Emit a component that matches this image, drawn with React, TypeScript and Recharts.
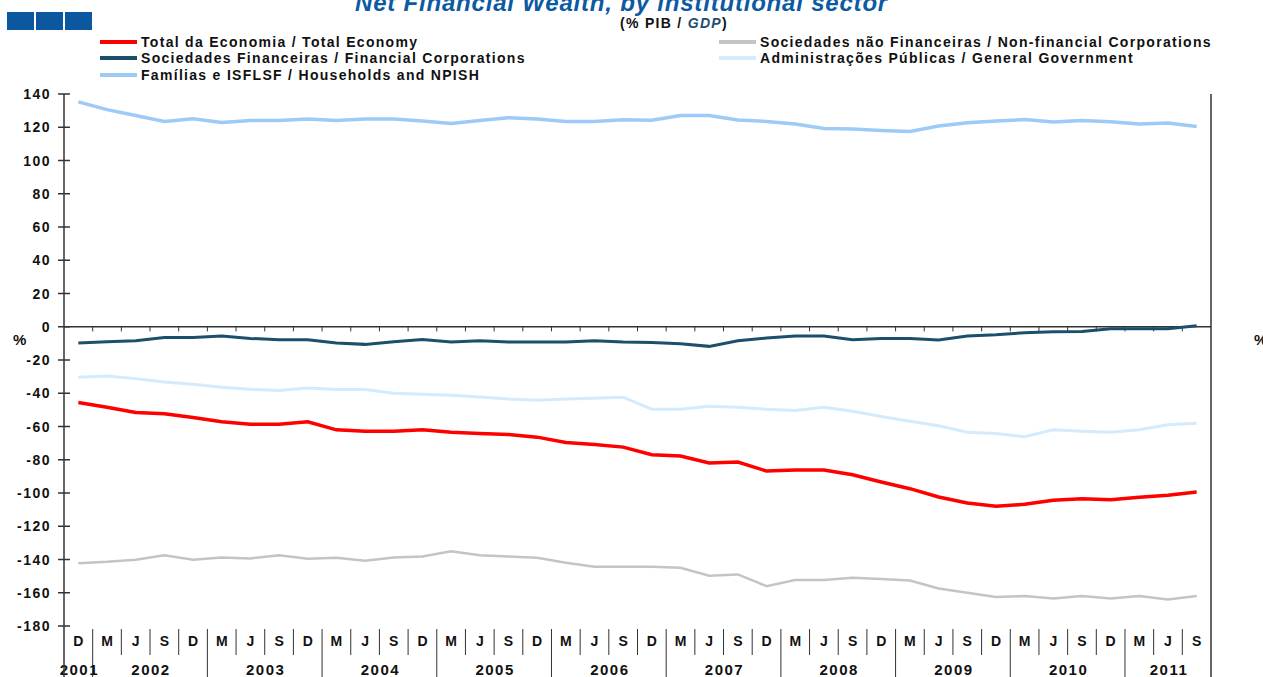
import React from 'react';
import { LineChart, Line, XAxis, YAxis, ReferenceLine } from 'recharts';

const months = ['D', 'M', 'J', 'S', 'D', 'M', 'J', 'S', 'D', 'M', 'J', 'S', 'D', 'M', 'J', 'S', 'D', 'M', 'J', 'S', 'D', 'M', 'J', 'S', 'D', 'M', 'J', 'S', 'D', 'M', 'J', 'S', 'D', 'M', 'J', 'S', 'D', 'M', 'J', 'S'];
const years = [2001, 2002, 2002, 2002, 2002, 2003, 2003, 2003, 2003, 2004, 2004, 2004, 2004, 2005, 2005, 2005, 2005, 2006, 2006, 2006, 2006, 2007, 2007, 2007, 2007, 2008, 2008, 2008, 2008, 2009, 2009, 2009, 2009, 2010, 2010, 2010, 2010, 2011, 2011, 2011];

const total = [-45.6, -48.4, -51.6, -52.4, -54.6, -57.2, -58.6, -58.6, -57.2, -62, -62.8, -62.8, -62, -63.4, -64.2, -64.8, -66.4, -69.6, -70.8, -72.4, -77, -77.8, -82, -81.4, -86.8, -86.2, -86.2, -89, -93.4, -97.4, -102.4, -106, -108, -106.8, -104.4, -103.4, -104, -102.6, -101.4, -99.4];
const financial = [-9.8, -9, -8.4, -6.4, -6.4, -5.6, -7, -7.8, -7.8, -9.8, -10.6, -9, -7.6, -9.2, -8.4, -9.2, -9.2, -9.2, -8.4, -9.2, -9.4, -10.2, -11.8, -8.4, -6.8, -5.6, -5.6, -7.8, -7, -7, -8, -5.6, -4.8, -3.6, -3, -2.8, -1.2, -1.2, -1.2, 0.6];
const households = [135.3, 130.6, 127.1, 123.5, 125.1, 122.9, 124.1, 124.1, 124.9, 124.1, 124.9, 124.9, 123.7, 122.2, 124.1, 125.7, 124.9, 123.5, 123.5, 124.5, 124.2, 127.1, 127.1, 124.4, 123.5, 121.9, 119.2, 119, 118.1, 117.5, 120.8, 122.7, 123.7, 124.6, 123.1, 124, 123.3, 121.9, 122.5, 120.4];
const nonFinancial = [-142.2, -141.4, -140.2, -137.4, -140.2, -138.8, -139.4, -137.4, -139.6, -139, -140.8, -138.8, -138.2, -135, -137.4, -138.2, -139, -142, -144.4, -144.4, -144.4, -145, -149.8, -149, -156, -152.4, -152.4, -151, -151.8, -152.6, -157.4, -160, -162.6, -162, -163.4, -162, -163.4, -162, -164, -162];
const government = [-30.4, -29.6, -31.2, -33.2, -34.6, -36.4, -37.6, -38.4, -36.8, -37.8, -37.8, -40, -40.6, -41.2, -42.2, -43.4, -44.2, -43.4, -43, -42.4, -49.6, -49.6, -47.8, -48.4, -49.6, -50.4, -48.4, -50.8, -54, -56.8, -59.6, -63.4, -64.2, -66.2, -62, -62.8, -63.4, -62, -59, -58];

const yTicks = [140, 120, 100, 80, 60, 40, 20, 0, -20, -40, -60, -80, -100, -120, -140, -160, -180];

const series = [
  { key: 'total', name: 'Total da Economia / Total Economy', color: '#ff0000', width: 3.5 },
  { key: 'financial', name: 'Sociedades Financeiras / Financial Corporations', color: '#1b4f6b', width: 3 },
  { key: 'households', name: 'Famílias e ISFLSF / Households and NPISH', color: '#9dcbf5', width: 3.5 },
  { key: 'nonFinancial', name: 'Sociedades não Financeiras / Non-financial Corporations', color: '#c4c4c4', width: 2.5 },
  { key: 'government', name: 'Administrações Públicas / General Government', color: '#d3ebfc', width: 3 },
];

const data = months.map((m, i) => ({
  i,
  month: m,
  year: years[i],
  total: total[i],
  financial: financial[i],
  households: households[i],
  nonFinancial: nonFinancial[i],
  government: government[i],
}));

const W = 1263;
const H = 677;
const PLOT_L = 64;
const PLOT_R = 1211;
const BAND = (PLOT_R - PLOT_L) / months.length;
const FONT = '"Liberation Sans", Arial, sans-serif';
const AXIS = '#333';

const boundaries = months.slice(1).map((_, i) => i + 0.5);

const MonthTick = (props: any) => {
  const { x, y, payload } = props;
  const i = payload.value as number;
  const last = months.length - 1;
  const yearStart = i === 0 || years[i - 1] !== years[i];
  const yearEnd = i === last || years[i + 1] !== years[i];
  const count = years.filter((yy) => yy === years[i]).length;
  return (
    <g>
      <text x={x + 0.5} y={y + 20} textAnchor="middle" fontFamily={FONT} fontWeight="bold" fontSize={14} letterSpacing={1} fill="#111">
        {months[i]}
      </text>
      {i < last && (
        <line x1={x + BAND / 2} x2={x + BAND / 2} y1={y + 3} y2={yearEnd ? H : y + 29} stroke={AXIS} strokeWidth={1} />
      )}
      {yearStart && (
        <text x={x + ((count - 1) * BAND) / 2 + 1} y={y + 49} textAnchor="middle" fontFamily={FONT} fontWeight="bold" fontSize={15} letterSpacing={1.5} fill="#111">
          {years[i]}
        </text>
      )}
      {i === 0 && <line x1={x - BAND / 2} x2={x - BAND / 2} y1={y} y2={H} stroke={AXIS} strokeWidth={1.5} />}
      {i === last && <line x1={x + BAND / 2} x2={x + BAND / 2} y1={y} y2={H} stroke={AXIS} strokeWidth={1.5} />}
    </g>
  );
};

const YTick = (props: any) => {
  const { x, y, payload, side } = props;
  const left = side === 'left';
  return (
    <g>
      <line x1={x - 6} x2={x + 6} y1={y} y2={y} stroke={AXIS} strokeWidth={1.5} />
      <text
        x={left ? x - 13 : x + 17}
        y={y + 5}
        textAnchor={left ? 'end' : 'start'}
        fontFamily={FONT}
        fontWeight="bold"
        fontSize={14}
        letterSpacing={1.5}
        fill="#111"
      >
        {payload.value}
      </text>
    </g>
  );
};

const LegendItem = ({ s, x, y }: { s: (typeof series)[number]; x: number; y: number }) => (
  <div style={{ position: 'absolute', left: x, top: y - 9, height: 18, display: 'flex', alignItems: 'center', whiteSpace: 'nowrap' }}>
    <div style={{ width: 37, height: 4, background: s.color, marginRight: 4 }} />
    <span style={{ fontFamily: FONT, fontWeight: 'bold', fontSize: 14, letterSpacing: 1.3, color: '#111' }}>{s.name}</span>
  </div>
);

export default function App() {
  const legendPos = [
    { x: 100, y: 42 },
    { x: 100, y: 58 },
    { x: 100, y: 75 },
    { x: 719, y: 42 },
    { x: 719, y: 58 },
  ];
  return (
    <div style={{ position: 'absolute', left: 0, top: 0, width: W, height: H, background: '#fff', overflow: 'hidden', fontFamily: FONT }}>
      <div style={{ position: 'absolute', left: 7, top: 12, display: 'flex', gap: 2 }}>
        {[0, 1, 2].map((k) => (
          <div key={k} style={{ width: 27, height: 18, background: '#0b58a0' }} />
        ))}
      </div>
      <div style={{ position: 'absolute', left: 0, width: 1243, top: -11, textAlign: 'center', fontFamily: FONT, fontWeight: 'bold', fontStyle: 'italic', fontSize: 24, letterSpacing: 0.8, color: '#0b5aa2', whiteSpace: 'nowrap' }}>
        Net Financial Wealth, by institutional sector
      </div>
      <div style={{ position: 'absolute', left: 620, top: 15, fontFamily: FONT, fontWeight: 'bold', fontSize: 14, letterSpacing: 1.3, color: '#111', whiteSpace: 'nowrap' }}>
        (% PIB / <span style={{ fontStyle: 'italic', color: '#1f4e6e' }}>GDP</span>)
      </div>
      {series.map((s, k) => (
        <LegendItem key={s.key} s={s} x={legendPos[k].x} y={legendPos[k].y} />
      ))}
      <div style={{ position: 'absolute', left: 13, top: 331, fontFamily: FONT, fontWeight: 'bold', fontSize: 15, color: '#111' }}>%</div>
      <div style={{ position: 'absolute', left: 1254, top: 331, fontFamily: FONT, fontWeight: 'bold', fontSize: 15, color: '#111' }}>%</div>
      <div style={{ position: 'absolute', left: 0, top: 0 }}>
        <LineChart width={W} height={H} data={data} margin={{ top: 94, right: 0, bottom: 0, left: 0 }}>
          <XAxis
            dataKey="i"
            type="number"
            domain={[-0.5, months.length - 0.5]}
            ticks={data.map((d) => d.i)}
            interval={0}
            height={51}
            axisLine={false}
            tickLine={false}
            tickSize={0}
            tickMargin={0}
            tick={<MonthTick />}
          />
          <YAxis
            yAxisId="left"
            orientation="left"
            width={64}
            domain={[-180, 140]}
            ticks={yTicks}
            interval={0}
            axisLine={{ stroke: AXIS, strokeWidth: 1.5 }}
            tickLine={false}
            tickSize={0}
            tickMargin={0}
            tick={<YTick side="left" />}
          />
          <YAxis
            yAxisId="right"
            orientation="right"
            width={52}
            domain={[-180, 140]}
            ticks={yTicks}
            interval={0}
            axisLine={{ stroke: AXIS, strokeWidth: 1.5 }}
            tickLine={false}
            tickSize={0}
            tickMargin={0}
            tick={<YTick side="right" />}
          />
          <ReferenceLine yAxisId="left" y={0} stroke={AXIS} strokeWidth={1.5} />
          {boundaries.map((b) => (
            <ReferenceLine
              key={b}
              yAxisId="left"
              segment={[
                { x: b, y: 0 },
                { x: b, y: -2.8 },
              ]}
              stroke={AXIS}
              strokeWidth={1}
            />
          ))}
          {series.map((s) => (
            <Line
              key={s.key}
              yAxisId="left"
              type="linear"
              dataKey={s.key}
              stroke={s.color}
              strokeWidth={s.width}
              dot={false}
              isAnimationActive={false}
            />
          ))}
        </LineChart>
      </div>
    </div>
  );
}
